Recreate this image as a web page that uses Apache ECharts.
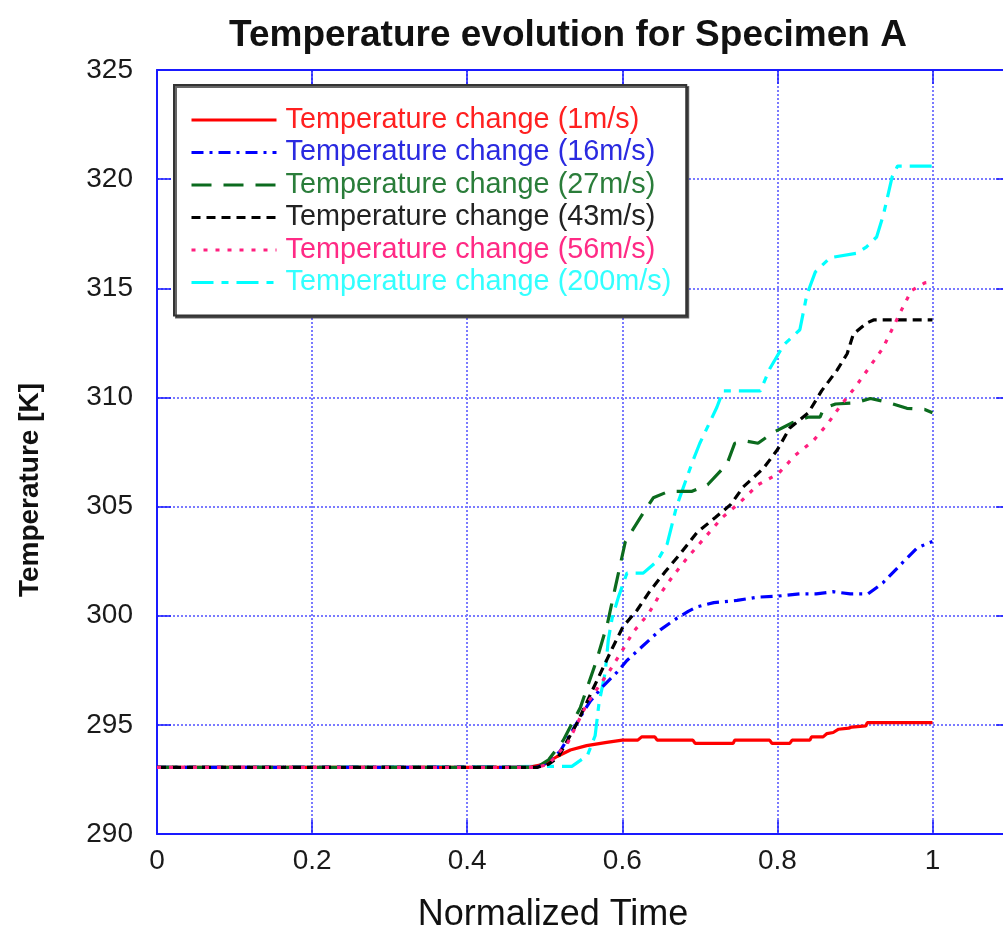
<!DOCTYPE html>
<html>
<head>
<meta charset="utf-8">
<script src="https://cdn.jsdelivr.net/npm/echarts@6/dist/echarts.min.js"></script>
<style>html,body{margin:0;padding:0;background:#fff}#c{width:1003px;height:933px}</style>
</head>
<body>
<div id="c"></div>
<script>
// ---- data (normalized time, temperature in K) ----
const titleText = 'Temperature evolution for Specimen A';
const xName = 'Normalized Time';
const yName = 'Temperature [K]';
const seriesNames = ['Temperature change (1m/s)','Temperature change (16m/s)','Temperature change (27m/s)','Temperature change (43m/s)','Temperature change (56m/s)','Temperature change (200m/s)'];
const xTicks = [0, 0.2, 0.4, 0.6, 0.8, 1];
const yTicks = [290, 295, 300, 305, 310, 315, 320, 325];

const red = [[0,293.05],[0.48,293.05],[0.5,293.2],[0.516,293.55],[0.533,293.85],[0.554,294.05],[0.58,294.2],[0.6,294.3],[0.62,294.3],[0.625,294.45],[0.642,294.45],[0.645,294.3],[0.691,294.3],[0.694,294.15],[0.743,294.15],[0.745,294.3],[0.79,294.3],[0.793,294.15],[0.816,294.15],[0.819,294.3],[0.842,294.3],[0.844,294.45],[0.859,294.45],[0.864,294.6],[0.872,294.65],[0.879,294.8],[0.892,294.85],[0.896,294.9],[0.914,294.95],[0.916,295.1],[1,295.1]];
const blue = [[0,293.05],[0.49,293.05],[0.505,293.3],[0.52,293.8],[0.535,294.7],[0.55,295.6],[0.559,296.1],[0.576,296.8],[0.593,297.4],[0.606,297.95],[0.626,298.6],[0.649,299.35],[0.671,299.9],[0.685,300.2],[0.696,300.4],[0.718,300.6],[0.748,300.7],[0.774,300.85],[0.801,300.9],[0.829,301.0],[0.85,301.0],[0.872,301.1],[0.894,301.0],[0.917,301.0],[0.936,301.5],[0.962,302.45],[0.98,303.1],[0.993,303.3],[1,303.4]];
const green = [[0,293.05],[0.49,293.05],[0.505,293.4],[0.524,294.3],[0.546,295.8],[0.567,297.97],[0.581,299.66],[0.591,301.3],[0.604,303.4],[0.627,304.7],[0.64,305.4],[0.66,305.7],[0.69,305.7],[0.71,306.0],[0.735,306.95],[0.745,307.9],[0.76,308.0],[0.775,307.9],[0.795,308.4],[0.82,308.85],[0.84,309.1],[0.855,309.1],[0.86,309.5],[0.875,309.7],[0.9,309.75],[0.92,309.95],[0.94,309.8],[0.967,309.5],[0.99,309.45],[1,309.3]];
const black = [[0,293.05],[0.49,293.05],[0.505,293.2],[0.517,293.5],[0.542,295.1],[0.563,296.7],[0.587,298.5],[0.601,299.5],[0.619,300.25],[0.636,301.15],[0.655,302.0],[0.675,302.85],[0.696,303.8],[0.72,304.5],[0.74,305.1],[0.756,305.9],[0.782,306.75],[0.8,307.6],[0.816,308.6],[0.84,309.3],[0.857,310.3],[0.877,311.25],[0.89,312.0],[0.898,312.9],[0.915,313.4],[0.924,313.55],[1,313.55]];
const pink = [[0,293.05],[0.49,293.05],[0.505,293.2],[0.53,294.2],[0.555,296.0],[0.584,297.5],[0.6,298.4],[0.614,299.25],[0.634,300.1],[0.649,301.0],[0.666,301.85],[0.685,302.7],[0.707,303.6],[0.729,304.5],[0.752,305.2],[0.775,306.0],[0.801,306.5],[0.823,307.35],[0.846,308.0],[0.865,308.8],[0.881,309.6],[0.9,310.45],[0.919,311.4],[0.936,312.25],[0.949,313.2],[0.96,314.0],[0.973,314.9],[0.99,315.25],[1,315.3]];
const cyan = [[0,293.05],[0.535,293.1],[0.555,293.6],[0.565,294.5],[0.57,296.0],[0.578,297.4],[0.582,298.9],[0.587,299.9],[0.595,300.85],[0.606,301.95],[0.627,301.95],[0.645,302.5],[0.658,303.3],[0.67,305.0],[0.69,307.0],[0.7,307.9],[0.722,309.55],[0.73,310.3],[0.778,310.3],[0.79,311.3],[0.808,312.4],[0.829,313.1],[0.838,314.7],[0.849,315.75],[0.868,316.4],[0.902,316.6],[0.915,316.9],[0.928,317.35],[0.937,318.4],[0.948,320.1],[0.955,320.6],[1,320.6]];

// ---- styles ----
const colors = ['#ff0000','#0000ff','#0b6b1e','#000000','#ff1f7f','#00ffff'];
const textColors = ['#ff2020','#2a2ae0','#2a7d3a','#222222','#ff2a85','#33ffff'];
const dashes = ['solid',[12,6,3,6],[20,12],[9,6],[4,8],[22,8,7,8]];
const datasets = [red, blue, green, black, pink, cyan];
const FONT = '"Liberation Sans", Arial, Helvetica, sans-serif';
const AXIS_BLUE = '#1a1aff';

const chart = echarts.init(document.getElementById('c'), null, {renderer:'canvas'});

const series = datasets.map((d, i) => ({
  name: seriesNames[i],
  type: 'line',
  data: d,
  symbol: 'none',
  showSymbol: false,
  z: i === 5 ? 1 : 2,
  lineStyle: {color: colors[i], width: 3.2, type: dashes[i], cap: 'butt'},
  itemStyle: {color: colors[i]},
  animation: false
}));

const option = {
  animation: false,
  backgroundColor: '#ffffff',
  title: {
    text: titleText,
    left: 563, top: 12, textAlign: 'center',
    textStyle: {fontFamily: FONT, fontSize: 37, fontWeight: 'bold', color: '#111'}
  },
  grid: {left: 157, top: 70, width: 853, height: 764, containLabel: false, outerBoundsMode: 'none'},
  legend: {
    orient: 'vertical',
    left: 174, top: 85,
    padding: [19, 15, 17, 16],
    itemWidth: 85, itemHeight: 14, itemGap: 0.5,
    backgroundColor: '#ffffff',
    borderColor: '#333333', borderWidth: 2,
    shadowColor: 'rgba(0,0,0,0.6)', shadowOffsetX: 2, shadowOffsetY: 2, shadowBlur: 0,
    selectedMode: false,
    itemStyle: {opacity: 0},
    lineStyle: {width: 3},
    textStyle: {fontFamily: FONT, fontSize: 28.8, lineHeight: 32, padding: [0, 0, 0, 4]},
    data: seriesNames.map((n, i) => ({name: n, textStyle: {color: textColors[i]}}))
  },
  xAxis: [{
    type: 'value', min: 0, max: 1.1, interval: 0.2, position: 'bottom',
    axisLine: {show: true, onZero: false, lineStyle: {color: AXIS_BLUE, width: 2}},
    axisTick: {show: true, inside: true, length: 14, lineStyle: {color: AXIS_BLUE, width: 1.5}},
    axisLabel: {fontFamily: FONT, fontSize: 28, color: '#1a1a1a', margin: 13,
      formatter: v => (xTicks.some(t => Math.abs(t - v) < 1e-6) ? String(+v.toFixed(1)) : '')},
    splitLine: {show: true, lineStyle: {color: '#7a7aff', width: 2, type: [2, 2]}}
  }, {
    type: 'value', min: 0, max: 1.1, interval: 0.2, position: 'top',
    axisLine: {show: true, onZero: false, lineStyle: {color: AXIS_BLUE, width: 2}},
    axisTick: {show: true, inside: true, length: 14, lineStyle: {color: AXIS_BLUE, width: 1.5}},
    axisLabel: {show: false}, splitLine: {show: false}
  }],
  yAxis: [{
    type: 'value', min: 290, max: 325, interval: 5, position: 'left',
    axisLine: {show: true, onZero: false, lineStyle: {color: AXIS_BLUE, width: 2}},
    axisTick: {show: true, inside: true, length: 14, lineStyle: {color: AXIS_BLUE, width: 1.5}},
    axisLabel: {fontFamily: FONT, fontSize: 28, color: '#1a1a1a', margin: 24,
      formatter: v => (yTicks.indexOf(v) >= 0 ? String(v) : '')},
    splitLine: {show: true, lineStyle: {color: '#7a7aff', width: 2, type: [2, 2]}}
  }, {
    type: 'value', min: 290, max: 325, interval: 5, position: 'right',
    axisLine: {show: true, onZero: false, lineStyle: {color: AXIS_BLUE, width: 2}},
    axisTick: {show: true, inside: true, length: 14, lineStyle: {color: AXIS_BLUE, width: 1.5}},
    axisLabel: {show: false}, splitLine: {show: false}
  }],
  graphic: [
    {type: 'text', x: 553, y: 915, style: {text: xName, fontFamily: FONT, fontSize: 36, fill: '#111', textAlign: 'center', textVerticalAlign: 'middle'}},
    {type: 'text', x: 30, y: 490, rotation: Math.PI / 2, style: {text: yName, fontFamily: FONT, fontSize: 28, fontWeight: 'bold', fill: '#111', textAlign: 'center', textVerticalAlign: 'middle'}}
  ],
  series: series
};
chart.setOption(option);
</script>
</body>
</html>
